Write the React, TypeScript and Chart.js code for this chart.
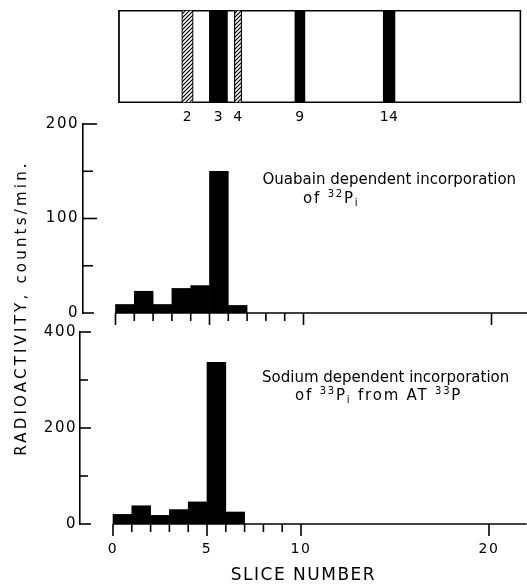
import React, { useEffect, useRef } from 'react';
import { Chart, registerables } from 'chart.js';

Chart.register(...registerables);

// ---------------- data ----------------
const sliceStarts = [0, 1, 2, 3, 4, 5, 6];
const ouabainCounts = [9, 23, 9, 26, 29, 150, 8];
const sodiumCounts = [20, 38, 18, 30, 46, 337, 25];
const baselineSlices = [0, 22];

const xTickMarks = [0, 1, 2, 3, 4, 5, 6, 7, 8, 9, 10, 20];
const xMajorTicks = [0, 5, 10, 20];
const xTickLabels = ['0', '5', '10', '20'];

const topYTicks = [0, 100, 200];
const topYTickLabels = ['0', '100', '200'];
const topYMinorTicks = [50, 150];
const bottomYTicks = [0, 200, 400];
const bottomYTickLabels = ['0', '200', '400'];
const bottomYMinorTicks = [100, 300];

const bandNames = ['2', '3', '4', '9', '14'];
const bandStarts = [3.55, 5.02, 6.35, 9.57, 14.27];
const bandEnds = [4.16, 5.98, 6.74, 10.1, 14.89];
const bandHatched = [true, false, true, false, false];
const gelStart = 0.18;
const gelEnd = 21.6;

const ouabainLine1 = [['Ouabain dependent incorporation', 'n']];
const ouabainLine2 = [['of ', 'n'], ['32', 'sup'], ['P', 'n'], ['i', 'sub']];
const sodiumLine1 = [['Sodium dependent incorporation', 'n']];
const sodiumLine2 = [['of ', 'n'], ['33', 'sup'], ['P', 'n'], ['i', 'sub'], [' from AT ', 'n'], ['33', 'sup'], ['P', 'n']];
const yTitle = 'RADIOACTIVITY, counts/min.';
const xTitle = 'SLICE NUMBER';

// ---------------- layout ----------------
const W = 527;
const H = 586;
const PX = 18.8; // pixels per slice
const FONT = "'DejaVu Sans', sans-serif";

function spacingPlugin(px: number) {
  return {
    id: 'spacing',
    beforeUpdate(chart: any) { chart.ctx.letterSpacing = px + 'px'; },
    beforeDraw(chart: any) { chart.ctx.letterSpacing = px + 'px'; },
  };
}

function tickMarksPlugin(xs: number[][], ys: number[][], lw: number) {
  return {
    id: 'tickMarks',
    afterDraw(chart: any) {
      const { ctx, chartArea: ca, scales } = chart;
      ctx.save();
      ctx.strokeStyle = '#000';
      ctx.lineWidth = lw;
      ctx.lineCap = 'butt';
      for (const [v, len] of xs) {
        const p = scales.x.getPixelForValue(v);
        ctx.beginPath();
        ctx.moveTo(p, ca.bottom);
        ctx.lineTo(p, ca.bottom + len);
        ctx.stroke();
      }
      for (const [v, len] of ys) {
        const p = scales.y.getPixelForValue(v);
        ctx.beginPath();
        ctx.moveTo(ca.left - 0.8, p);
        ctx.lineTo(ca.left + len, p);
        ctx.stroke();
      }
      ctx.restore();
    },
  };
}

type TextItem = { segs: string[][]; x: number; y: number; size: number; small: number; supDy: number; subDy: number; spacing: number };

function textPlugin(items: TextItem[], rotated?: { text: string; x: number; y: number; size: number; spacing: number }) {
  return {
    id: 'richText',
    afterDraw(chart: any) {
      const ctx = chart.ctx;
      ctx.save();
      ctx.fillStyle = '#000';
      ctx.textBaseline = 'alphabetic';
      ctx.textAlign = 'left';
      for (const it of items) {
        ctx.letterSpacing = it.spacing + 'px';
        let cx = it.x;
        for (const [t, kind] of it.segs) {
          const size = kind === 'n' ? it.size : it.small;
          const dy = kind === 'sup' ? it.supDy : kind === 'sub' ? it.subDy : 0;
          ctx.font = `${size}px ${FONT}`;
          ctx.fillText(t, cx, it.y + dy);
          cx += ctx.measureText(t).width;
        }
      }
      if (rotated) {
        ctx.letterSpacing = rotated.spacing + 'px';
        ctx.font = `${rotated.size}px ${FONT}`;
        ctx.translate(rotated.x, rotated.y);
        ctx.rotate(-Math.PI / 2);
        ctx.textAlign = 'center';
        ctx.fillText(rotated.text, 0, 0);
      }
      ctx.restore();
    },
  };
}

function makeHatch() {
  const c = document.createElement('canvas');
  c.width = 4;
  c.height = 4;
  const g = c.getContext('2d')!;
  g.fillStyle = '#fff';
  g.fillRect(0, 0, 4, 4);
  g.strokeStyle = '#000';
  g.lineWidth = 1.2;
  g.beginPath();
  g.moveTo(0, 4); g.lineTo(4, 0);
  g.moveTo(-1, 1); g.lineTo(1, -1);
  g.moveTo(3, 5); g.lineTo(5, 3);
  g.stroke();
  return g.createPattern(c, 'repeat');
}

const baseOptions = {
  responsive: false,
  animation: false as const,
  events: [] as any[],
  plugins: { legend: { display: false }, tooltip: { enabled: false } },
};

function gelConfig(): any {
  const hatch = makeHatch();
  const centers = bandStarts.map((s, i) => (s + bandEnds[i]) / 2);
  const bandData = (hatched: boolean) =>
    bandStarts
      .map((s, i) => ({ x: [s, bandEnds[i]], y: 'gel', h: bandHatched[i] }))
      .filter((d) => d.h === hatched)
      .map((d) => ({ x: d.x, y: d.y }));
  const x0 = 115;
  return {
    type: 'bar',
    data: {
      labels: ['gel'],
      datasets: [
        { data: [{ x: [gelStart, gelEnd], y: 'gel' }], backgroundColor: '#fff', borderColor: '#000', borderWidth: 1.8, borderSkipped: false, order: 3 },
        { data: bandData(false), backgroundColor: '#000', borderWidth: 0, order: 1 },
        { data: bandData(true), backgroundColor: hatch, borderColor: '#000', borderWidth: 1.2, borderSkipped: false, order: 2 },
      ],
    },
    options: {
      ...baseOptions,
      indexAxis: 'y',
      datasets: { bar: { barPercentage: 1, categoryPercentage: 1, grouped: false } },
      layout: { padding: { top: 10, bottom: H - 103 - 25, left: 0, right: 0 } },
      scales: {
        x: {
          type: 'linear', min: -x0 / PX, max: (W - x0) / PX, offset: false,
          grid: { display: false, drawTicks: false }, border: { display: false },
          afterBuildTicks: (s: any) => { s.ticks = centers.map((v) => ({ value: v })); },
          ticks: { autoSkip: false, maxRotation: 0, padding: 6, font: { size: 14 }, color: '#000', callback: (_v: any, i: number) => bandNames[i] },
          afterFit: (s: any) => { s.height = 25; },
        },
        y: { type: 'category', display: false },
      },
    },
    plugins: [spacingPlugin(0.5)],
  };
}

function panelConfig(p: {
  counts: number[]; yMax: number; yTicks: number[]; yLabels: string[]; yMinor: number[];
  axisLeft: number; x0: number; top: number; bottom: number; xAxisH: number; showX: boolean;
  yPad: number; yMajorLen: number; yMinorLen: number; text: TextItem[]; rotated?: any;
}): any {
  const xTicks = xTickMarks.map((v) => [v, xMajorTicks.includes(v) ? 12 : 8]);
  const yTickMarks = [
    ...p.yTicks.map((v) => [v, v === 0 ? 11 : p.yMajorLen]),
    ...p.yMinor.map((v) => [v, p.yMinorLen]),
  ];
  return {
    type: 'bar',
    data: {
      datasets: [
        {
          type: 'bar',
          data: sliceStarts.map((s, i) => ({ x: s + 0.5, y: p.counts[i] })),
          backgroundColor: '#000', borderWidth: 0, barPercentage: 1, categoryPercentage: 1, order: 2,
        },
        {
          type: 'line',
          data: baselineSlices.map((x) => ({ x, y: 0 })),
          borderColor: '#000', borderWidth: 1.6, pointRadius: 0, clip: false, order: 1,
        },
      ],
    },
    options: {
      ...baseOptions,
      layout: { padding: { top: p.top, bottom: H - p.bottom - p.xAxisH, left: 0, right: 0 } },
      scales: {
        x: {
          type: 'linear', min: -(p.x0 - p.axisLeft) / PX, max: (W - p.x0) / PX, offset: false,
          grid: { display: false, drawTicks: false }, border: { display: false },
          afterBuildTicks: (s: any) => { s.ticks = xMajorTicks.map((v) => ({ value: v })); },
          ticks: {
            display: p.showX, autoSkip: false, maxRotation: 0, padding: 17,
            font: { size: 14 }, color: '#000', callback: (_v: any, i: number) => xTickLabels[i],
          },
          title: { display: p.showX, text: xTitle, font: { size: 17 }, color: '#000', padding: { top: 0, bottom: 0 } },
          afterFit: (s: any) => { s.height = p.xAxisH; },
        },
        y: {
          type: 'linear', min: 0, max: p.yMax,
          grid: { display: false, drawTicks: false },
          border: { display: true, color: '#000', width: 1.6 },
          afterBuildTicks: (s: any) => { s.ticks = p.yTicks.map((v) => ({ value: v })); },
          ticks: { padding: p.yPad, font: { size: 15 }, color: '#000', callback: (_v: any, i: number) => p.yLabels[i] },
          afterFit: (s: any) => { s.width = p.axisLeft; },
        },
      },
    },
    plugins: [spacingPlugin(1.5), tickMarksPlugin(xTicks, yTickMarks, 1.6), textPlugin(p.text, p.rotated)],
  };
}

export default function App() {
  const gelRef = useRef<HTMLCanvasElement>(null);
  const topRef = useRef<HTMLCanvasElement>(null);
  const botRef = useRef<HTMLCanvasElement>(null);

  useEffect(() => {
    Chart.defaults.font.family = FONT;
    Chart.defaults.color = '#000';
    const charts = [
      new Chart(gelRef.current!, gelConfig()),
      new Chart(
        topRef.current!,
        panelConfig({
          counts: ouabainCounts, yMax: 200, yTicks: topYTicks, yLabels: topYTickLabels, yMinor: topYMinorTicks,
          axisLeft: 83, x0: 115.5, top: 124, bottom: 313, xAxisH: 20, showX: false,
          yPad: 4, yMajorLen: 14, yMinorLen: 10,
          text: [
            { segs: ouabainLine1, x: 262.5, y: 183.5, size: 15, small: 10, supDy: -6, subDy: 3, spacing: 0 },
            { segs: ouabainLine2, x: 303, y: 203, size: 15, small: 10, supDy: -6, subDy: 3, spacing: 1.8 },
          ],
        })
      ),
      new Chart(
        botRef.current!,
        panelConfig({
          counts: sodiumCounts, yMax: 400, yTicks: bottomYTicks, yLabels: bottomYTickLabels, yMinor: bottomYMinorTicks,
          axisLeft: 80, x0: 113, top: 332, bottom: 524, xAxisH: 62, showX: true,
          yPad: 3, yMajorLen: 11, yMinorLen: 8,
          text: [
            { segs: sodiumLine1, x: 262, y: 381.5, size: 15, small: 10, supDy: -6, subDy: 3, spacing: 0 },
            { segs: sodiumLine2, x: 295, y: 399.5, size: 15, small: 10, supDy: -6, subDy: 3, spacing: 1.8 },
          ],
          rotated: { text: yTitle, x: 26, y: 308, size: 15, spacing: 3.2 },
        })
      ),
    ];
    return () => charts.forEach((c) => c.destroy());
  }, []);

  const cs: React.CSSProperties = { position: 'absolute', left: 0, top: 0, width: W, height: H };
  return (
    <div style={{ position: 'absolute', left: 0, top: 0, width: W, height: H, background: '#fff', overflow: 'hidden' }}>
      <canvas ref={gelRef} width={W} height={H} style={cs} />
      <canvas ref={topRef} width={W} height={H} style={cs} />
      <canvas ref={botRef} width={W} height={H} style={cs} />
    </div>
  );
}
